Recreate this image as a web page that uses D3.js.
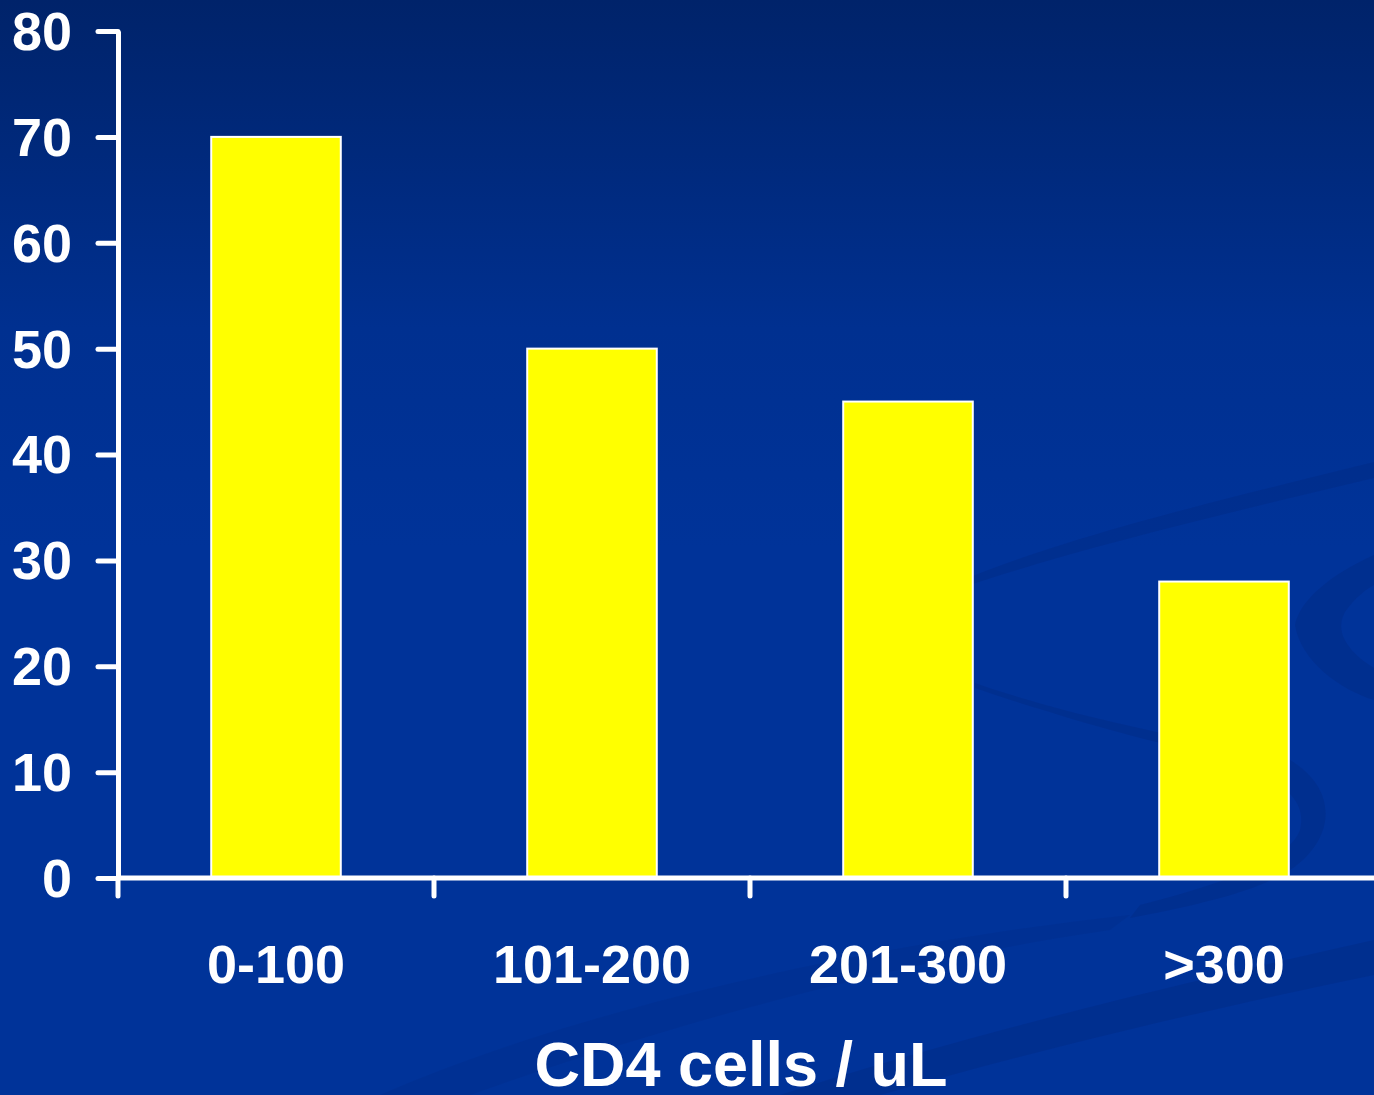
<!DOCTYPE html>
<html>
<head>
<meta charset="utf-8">
<script src="https://cdn.jsdelivr.net/npm/d3@7"></script>
<style>
  html, body { margin: 0; padding: 0; overflow: hidden; }
  svg { display: block; }
</style>
</head>
<body>
<svg id="chart" width="1374" height="1095"></svg>
<script>
// CD4 count bands and their values
const categories = ["0-100", "101-200", "201-300", ">300"];
const values = [70, 50, 45, 28];
const yTicks = [0, 10, 20, 30, 40, 50, 60, 70, 80];
const xTitle = "CD4 cells / uL";

const W = 1374, H = 1095;
const plotLeft = 118, plotRight = 1382, plotTop = 31, plotBottom = 878;
const font = "'Liberation Sans', Arial, Helvetica, sans-serif";

const svg = d3.select("#chart");

// background: navy gradient
const defs = svg.append("defs");
const grad = defs.append("linearGradient").attr("id", "bg")
  .attr("x1", 0).attr("y1", 0).attr("x2", 0).attr("y2", 1);
grad.append("stop").attr("offset", "0%").attr("stop-color", "#00236a");
grad.append("stop").attr("offset", "30%").attr("stop-color", "#003090");
grad.append("stop").attr("offset", "50%").attr("stop-color", "#003399");
grad.append("stop").attr("offset", "100%").attr("stop-color", "#003399");
svg.append("rect").attr("width", W).attr("height", H).attr("fill", "url(#bg)");

// faint swooshes in the lower right of the backdrop
const sw = svg.append("g").attr("fill", "#00297f").attr("opacity", 0.35);
sw.append("path").attr("d",
  "M 940 590 C 1050 540, 1220 500, 1374 462 L 1374 478 C 1230 512, 1080 548, 970 585 Z");
sw.append("path").attr("d",
  "M 1374 555 C 1330 575, 1300 600, 1295 625 C 1300 660, 1340 690, 1374 700 L 1374 668 C 1345 650, 1335 630, 1345 612 C 1355 598, 1365 590, 1374 585 Z");
sw.append("path").attr("d",
  "M 975 683 C 1080 720, 1200 740, 1290 760 C 1340 790, 1335 840, 1290 870 C 1260 890, 1200 905, 1130 918 L 1140 905 C 1220 885, 1290 860, 1300 830 C 1310 790, 1260 770, 1200 752 C 1120 735, 1040 710, 975 688 Z");
sw.append("path").attr("d",
  "M 780 1095 C 950 1040, 1150 990, 1374 940 L 1374 975 C 1180 1015, 1000 1060, 880 1095 Z");
sw.append("path").attr("d",
  "M 380 1095 C 600 1000, 900 940, 1130 915 L 1110 930 C 900 960, 650 1030, 470 1095 Z").attr("opacity", 0.6);

// scales
const x = d3.scaleBand().domain(categories).range([plotLeft, plotRight])
  .paddingInner(0.59).paddingOuter(0.295);
const y = d3.scaleLinear().domain([0, 80]).range([plotBottom, plotTop]);
const gap = (x.step() - x.bandwidth()) / 2;

// bars
svg.append("g").selectAll("rect").data(values).join("rect")
  .attr("x", (d, i) => x(categories[i]))
  .attr("y", d => y(d))
  .attr("width", x.bandwidth())
  .attr("height", d => y(0) - y(d))
  .attr("fill", "#ffff00")
  .attr("stroke", "#ffffff")
  .attr("stroke-width", 2);

// y axis
const yAxis = svg.append("g").attr("transform", `translate(${plotLeft},0)`)
  .call(d3.axisLeft(y).tickValues(yTicks).tickSize(20).tickSizeOuter(0).tickPadding(26));
yAxis.select(".domain").attr("stroke", "#fff").attr("stroke-width", 5);
yAxis.selectAll(".tick line").attr("stroke", "#fff").attr("stroke-width", 5)
  .attr("stroke-linecap", "round");
yAxis.selectAll(".tick text").attr("fill", "#fff")
  .style("font-family", font).style("font-size", "54px").style("font-weight", "bold")
  .attr("dy", "0.34em");

// x axis line across to the right edge
svg.append("line")
  .attr("x1", plotLeft).attr("x2", W + 10)
  .attr("y1", plotBottom).attr("y2", plotBottom)
  .attr("stroke", "#fff").attr("stroke-width", 5);

// category boundary ticks
svg.append("g").selectAll("line").data(categories).join("line")
  .attr("x1", d => x(d) - gap).attr("x2", d => x(d) - gap)
  .attr("y1", plotBottom).attr("y2", plotBottom + 18)
  .attr("stroke", "#fff").attr("stroke-width", 5).attr("stroke-linecap", "round");

// category labels
const xAxis = svg.append("g").attr("transform", `translate(0,${plotBottom})`)
  .call(d3.axisBottom(x).tickSize(0).tickPadding(0));
xAxis.select(".domain").remove();
xAxis.selectAll(".tick text").attr("fill", "#fff")
  .attr("y", 105).attr("dy", 0)
  .style("font-family", font).style("font-size", "54px").style("font-weight", "bold");

// axis title
svg.append("text")
  .attr("x", 741).attr("y", 1086)
  .attr("text-anchor", "middle")
  .attr("fill", "#fff")
  .style("font-family", font).style("font-size", "63px").style("font-weight", "bold")
  .text(xTitle);
</script>
</body>
</html>
